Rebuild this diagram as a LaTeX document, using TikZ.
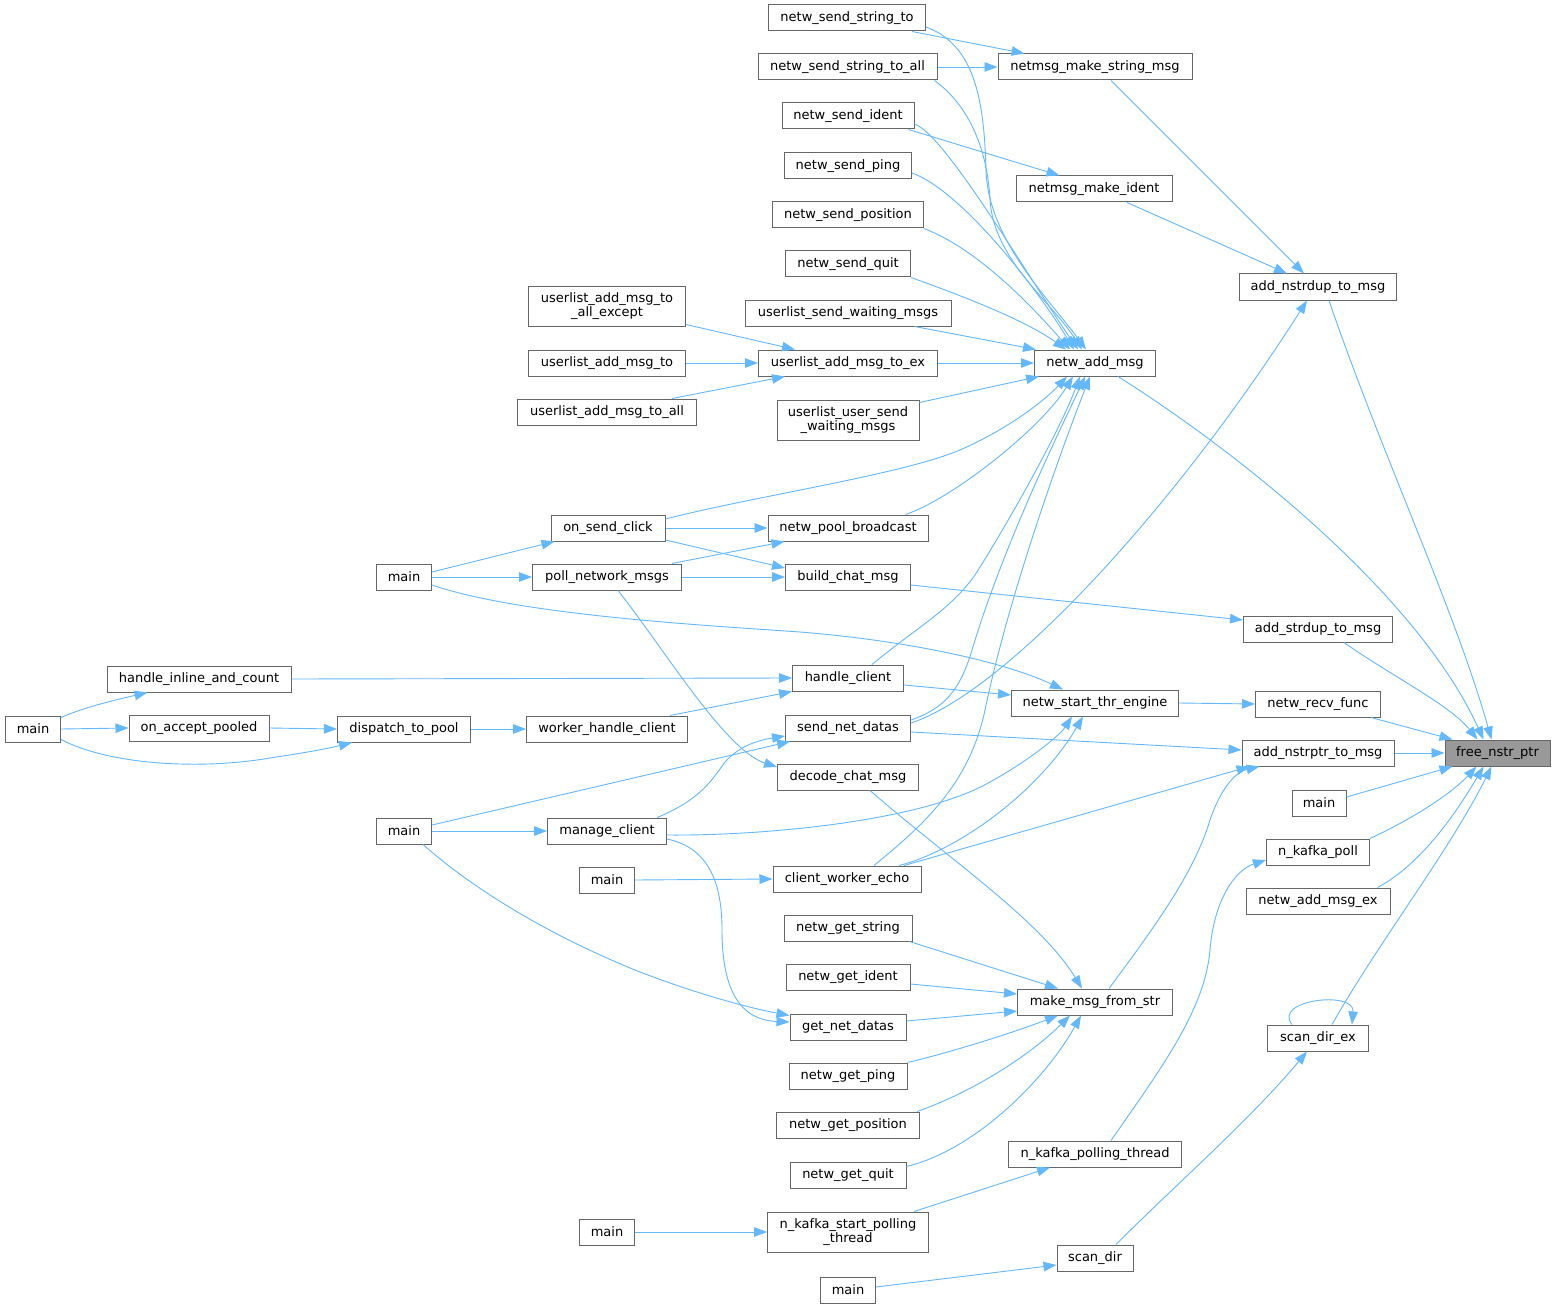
\documentclass[tikz,border=0pt]{standalone}
\usepackage{fontspec}
\setmainfont{DejaVu Sans}
\usetikzlibrary{arrows.meta}
\definecolor{edgeblue}{HTML}{63B8FF}
\definecolor{boxgray}{HTML}{666666}
\definecolor{fillgray}{HTML}{999999}
\tikzset{
 fn/.style={draw=boxgray, line width=1pt, fill=white, inner sep=0pt, minimum height=26pt, font=\fontsize{13}{14.5}\selectfont, align=center, text=black},
 fntwo/.style={fn, minimum height=40pt},
 call/.style={draw=edgeblue, line width=0.9pt, -{Triangle[length=13pt,width=9.5pt]}}
}
\begin{document}
\begin{tikzpicture}[x=1pt,y=-1pt]
\useasboundingbox[fill=white] (0,0) rectangle (1556,1308);
% column 5
\node[fn, minimum width=105pt, fill=fillgray] (fnp) at (1497.5,753) {free\_nstr\_ptr};
% column 4
\node[fn, minimum width=157pt] (ands) at (1318,287) {add\_nstrdup\_to\_msg};
\node[fn, minimum width=149pt] (asd) at (1318,629) {add\_strdup\_to\_msg};
\node[fn, minimum width=125pt] (nrf) at (1318,704) {netw\_recv\_func};
\node[fn, minimum width=152pt] (anp) at (1318,753) {add\_nstrptr\_to\_msg};
\node[fn, minimum width=54pt] (m4) at (1319,803) {main};
\node[fn, minimum width=103pt] (nkp) at (1318,852) {n\_kafka\_poll};
\node[fn, minimum width=144pt] (nameex) at (1318,901) {netw\_add\_msg\_ex};
\node[fn, minimum width=101pt] (sde) at (1318,1038) {scan\_dir\_ex};
% column 3
\node[fn, minimum width=194pt] (nmsm) at (1095,67) {netmsg\_make\_string\_msg};
\node[fn, minimum width=156pt] (nmi) at (1094,189) {netmsg\_make\_ident};
\node[fn, minimum width=121pt] (nam) at (1095,363) {netw\_add\_msg};
\node[fn, minimum width=167pt] (nste) at (1095,703) {netw\_start\_thr\_engine};
\node[fn, minimum width=155pt] (mmfs) at (1095,1002) {make\_msg\_from\_str};
\node[fn, minimum width=173pt] (nkpt) at (1095,1154) {n\_kafka\_polling\_thread};
\node[fn, minimum width=76pt] (sd) at (1095,1258) {scan\_dir};
% column 2
\node[fn, minimum width=157pt] (nsst) at (847,18) {netw\_send\_string\_to};
\node[fn, minimum width=179pt] (nssta) at (847.5,67) {netw\_send\_string\_to\_all};
\node[fn, minimum width=132pt] (nsi) at (848,116) {netw\_send\_ident};
\node[fn, minimum width=127pt] (nsp) at (848,166) {netw\_send\_ping};
\node[fn, minimum width=151pt] (nspos) at (848,215) {netw\_send\_position};
\node[fn, minimum width=125pt] (nsq) at (848,264) {netw\_send\_quit};
\node[fn, minimum width=206pt] (uswm) at (848,313) {userlist\_send\_waiting\_msgs};
\node[fn, minimum width=179pt] (uamte) at (848,363) {userlist\_add\_msg\_to\_ex};
\node[fntwo, minimum width=142pt] (uuswm) at (848,420) {userlist\_user\_send\\\_waiting\_msgs};
\node[fn, minimum width=160pt] (npb) at (848,528) {netw\_pool\_broadcast};
\node[fn, minimum width=125pt] (bcm) at (848,577) {build\_chat\_msg};
\node[fn, minimum width=111pt] (hc) at (848,678) {handle\_client};
\node[fn, minimum width=125pt] (snd) at (848,728) {send\_net\_datas};
\node[fn, minimum width=141pt] (dcm) at (848,777) {decode\_chat\_msg};
\node[fn, minimum width=148pt] (cwe) at (847,879) {client\_worker\_echo};
\node[fn, minimum width=128pt] (ngs) at (848,928) {netw\_get\_string};
\node[fn, minimum width=124pt] (ngi) at (848,977) {netw\_get\_ident};
\node[fn, minimum width=116pt] (gnd) at (848,1027) {get\_net\_datas};
\node[fn, minimum width=118pt] (ngp) at (848,1076) {netw\_get\_ping};
\node[fn, minimum width=143pt] (ngpos) at (848,1125) {netw\_get\_position};
\node[fn, minimum width=116pt] (ngq) at (848,1175) {netw\_get\_quit};
\node[fntwo, minimum width=161pt] (nkspt) at (848,1232) {n\_kafka\_start\_polling\\\_thread};
\node[fn, minimum width=55pt] (mb) at (848,1290) {main};
% column 1
\node[fntwo, minimum width=157pt] (uamtae) at (607,306) {userlist\_add\_msg\_to\\\_all\_except};
\node[fn, minimum width=157pt] (uamt) at (607,363) {userlist\_add\_msg\_to};
\node[fn, minimum width=179pt] (uamta) at (607,412) {userlist\_add\_msg\_to\_all};
\node[fn, minimum width=114pt] (osc) at (608,528) {on\_send\_click};
\node[fn, minimum width=149pt] (pnm) at (607,577) {poll\_network\_msgs};
\node[fn, minimum width=161pt] (whc) at (607,729) {worker\_handle\_client};
\node[fn, minimum width=119pt] (mc) at (607,831) {manage\_client};
\node[fn, minimum width=55pt] (m1a) at (607,880) {main};
\node[fn, minimum width=55pt] (m1b) at (607,1232) {main};
% column 0.5
\node[fn, minimum width=55pt] (m05a) at (404,577) {main};
\node[fn, minimum width=133pt] (dtp) at (404,729) {dispatch\_to\_pool};
\node[fn, minimum width=55pt] (m05b) at (404,831) {main};
% column 0.25
\node[fn, minimum width=184pt] (hiac) at (199,679) {handle\_inline\_and\_count};
\node[fn, minimum width=140pt] (oap) at (199,728) {on\_accept\_pooled};
% column 0
\node[fn, minimum width=55pt] (m0) at (33,729) {main};

% edges
\draw[call] ([xshift=-14pt]nsst.south east) -- ([xshift=27pt]nmsm.north west);
\draw[call] ([yshift=-9pt]nsst.east) .. controls (975,45) and (984,100) .. (986,170) .. controls (988,240) and (1050,300) .. ([xshift=-9pt]nam.north);
\draw[call] (nssta.east) -- (nmsm.west);
\draw[call] ([xshift=-3pt]nssta.south east) .. controls (975,110) and (988,160) .. (990,200) .. controls (994,260) and (1050,300) .. ([xshift=-13pt]nam.north);
\draw[call] ([xshift=-6pt]nsi.south east) -- ([xshift=44pt]nmi.north west);
\draw[call] ([yshift=-8pt]nsi.east) .. controls (945,134) and (1030,280) .. ([xshift=-17pt]nam.north);
\draw[call] ([yshift=-7pt]nsp.east) .. controls (960,190) and (1035,285) .. ([xshift=-21pt]nam.north);
\draw[call] (nspos.south east) .. controls (980,250) and (1035,310) .. ([xshift=-25pt]nam.north);
\draw[call] (nsq.south east) .. controls (960,295) and (1025,320) .. ([xshift=-29pt]nam.north);
\draw[call] ([xshift=-37pt]uswm.south east) -- ([xshift=2pt]nam.north west);
\draw[call] (uamte.east) -- (nam.west);
\draw[call] ([yshift=-3pt]uuswm.north east) -- ([xshift=5pt]nam.south west);
\draw[call] ([yshift=2pt]uamtae.south east) -- ([xshift=37pt]uamte.north west);
\draw[call] (uamt.east) -- (uamte.west);
\draw[call] ([xshift=-25pt]uamta.north east) -- ([xshift=27pt]uamte.south west);
\draw[call] ([xshift=16pt]nmsm.south) -- ([xshift=-14pt]ands.north);
\draw[call] ([xshift=33pt]nmi.south) -- ([xshift=-31pt]ands.north);
\draw[call] ([xshift=11pt]ands.south) .. controls (1380,450) and (1455,610) .. ([xshift=47pt]fnp.north west);
\draw[call] ([xshift=23pt]nam.south) .. controls (1250,460) and (1420,600) .. ([xshift=39pt]fnp.north west);
\draw[call] ([yshift=9pt]osc.east) .. controls (760,495) and (900,475) .. (960,450) .. controls (1010,428) and (1045,400) .. ([xshift=-28pt]nam.south);
\draw[call] (osc.east) -- (npb.west);
\draw[call] ([yshift=-12pt]osc.east) -- ([yshift=9pt]bcm.west);
\draw[call] ([xshift=-23pt]npb.north east) .. controls (950,500) and (1040,430) .. ([xshift=-22pt]nam.south);
\draw[call] ([xshift=-10pt]pnm.north east) -- ([xshift=17pt]npb.south west);
\draw[call] (pnm.east) -- (bcm.west);
\draw[call] ([xshift=11pt]pnm.south) .. controls (665,650) and (725,750) .. ([yshift=10pt]dcm.west);
\draw[call] ([yshift=5pt]m05a.east) -- ([xshift=4pt]osc.south west);
\draw[call] (m05a.east) -- (pnm.west);
\draw[call] ([yshift=-8pt]m05a.east) .. controls (520,615) and (700,625) .. (800,632) .. controls (900,640) and (1000,660) .. ([xshift=-32pt]nste.north);
\draw[call] ([yshift=-8pt]bcm.east) -- ([yshift=9pt]asd.west);
\draw[call] ([xshift=26pt]asd.south) .. controls (1390,675) and (1450,705) .. ([xshift=33pt]fnp.north west);
\draw[call] ([xshift=24pt]hc.north) .. controls (920,625) and (950,610) .. (975,575) .. controls (1010,520) and (1060,430) .. ([xshift=-15pt]nam.south);
\draw[call] ([yshift=-7pt]hc.east) -- ([yshift=8pt]nste.west);
\draw[call] (hiac.east) -- (hc.west);
\draw[call] ([xshift=-18pt]whc.north east) -- (hc.south west);
\draw[call] (dtp.east) -- (whc.west);
\draw[call] (oap.east) -- (dtp.west);
\draw[call] ([yshift=-2pt]m0.north east) .. controls (85,707) and (115,700) .. ([xshift=41pt]hiac.south west);
\draw[call] (m0.east) -- (oap.west);
\draw[call] ([yshift=3pt]m0.south east) .. controls (110,765) and (200,770) .. (270,758) .. controls (310,752) and (330,748) .. ([xshift=15pt]dtp.south west);
\draw[call] ([yshift=8pt]snd.east) .. controls (945,708) and (960,690) .. (972,650) .. controls (1005,540) and (1065,420) .. ([xshift=-10pt]nam.south);
\draw[call] ([yshift=5pt]snd.east) .. controls (1010,690) and (1180,500) .. ([xshift=-11pt]ands.south);
\draw[call] ([yshift=-4pt]snd.east) -- ([yshift=3pt]anp.west);
\draw[call] (nste.east) -- (nrf.west);
\draw[call] ([xshift=-10pt]nrf.south east) -- ([xshift=8pt]fnp.north west);
\draw[call] (anp.east) -- (fnp.west);
\draw[call] ([yshift=6pt]m4.east) -- ([xshift=8pt]fnp.south west);
\draw[call] (nkp.north east) .. controls (1410,820) and (1450,795) .. ([xshift=32pt]fnp.south west);
\draw[call] ([xshift=-13pt]nameex.north east) .. controls (1420,865) and (1455,815) .. ([xshift=39pt]fnp.south west);
\draw[call] ([xshift=14pt]sde.north) .. controls (1380,940) and (1450,850) .. ([xshift=47pt]fnp.south west);
\draw[call] ([xshift=-26pt]sde.north) .. controls (1272,1000) and (1355,990) .. ([xshift=34pt]sde.north);
\draw[call] ([xshift=21pt]sd.north) .. controls (1170,1190) and (1250,1120) .. ([xshift=-11pt]sde.south);
\draw[call] ([yshift=3pt]mb.east) -- ([yshift=-7pt]sd.west);
\draw[call] ([xshift=16pt]nkpt.north) .. controls (1160,1070) and (1205,1010) .. (1210,950) .. controls (1214,900) and (1235,870) .. ([yshift=-8pt]nkp.west);
\draw[call] ([xshift=-15pt]nkspt.north east) -- ([xshift=42pt]nkpt.south west);
\draw[call] (m1b.east) -- (nkspt.west);
\draw[call] ([xshift=14pt]mmfs.north) .. controls (1160,920) and (1195,870) .. (1210,820) .. controls (1220,790) and (1235,772) .. ([xshift=18pt]anp.south west);
\draw[call] ([xshift=-3pt]ngs.south east) -- ([xshift=-37pt]mmfs.north);
\draw[call] ([yshift=-7pt]ngi.east) -- ([yshift=8pt]mmfs.west);
\draw[call] ([yshift=6pt]gnd.east) -- ([yshift=-9pt]mmfs.west);
\draw[call] (ngp.north east) .. controls (960,1050) and (1020,1030) .. ([xshift=-37pt]mmfs.south);
\draw[call] ([xshift=-3pt]ngpos.north east) .. controls (965,1095) and (1025,1060) .. ([xshift=-25pt]mmfs.south);
\draw[call] ([yshift=-5pt]ngq.north east) .. controls (975,1150) and (1045,1080) .. ([xshift=-14pt]mmfs.south);
\draw[call] ([xshift=22pt]dcm.south) .. controls (950,860) and (1040,920) .. ([xshift=-13pt]mmfs.north);
\draw[call] ([xshift=27pt]cwe.north) .. controls (930,820) and (970,780) .. (985,710) .. controls (1010,590) and (1065,440) .. ([xshift=-5pt]nam.south);
\draw[call] ([xshift=52pt]cwe.north) .. controls (960,850) and (1040,790) .. ([xshift=-12pt]nste.south);
\draw[call] ([xshift=57pt]cwe.north) -- ([xshift=8pt]anp.south west);
\draw[call] (m1a.east) -- (cwe.west);
\draw[call] ([yshift=6pt]m05b.east) -- ([xshift=5pt]snd.south west);
\draw[call] (m05b.east) -- (mc.west);
\draw[call] ([xshift=19pt]m05b.south) .. controls (480,895) and (560,940) .. (640,972) .. controls (700,995) and (750,1008) .. ([yshift=-2pt]gnd.north west);
\draw[call] ([xshift=-10pt]mc.north east) .. controls (700,800) and (712,780) .. (725,762) .. controls (740,745) and (760,740) .. ([yshift=-8pt]snd.west);
\draw[call] ([yshift=-4pt]mc.east) .. controls (760,836) and (920,822) .. (990,782) .. controls (1030,760) and (1060,735) .. ([xshift=-23pt]nste.south);
\draw[call] ([yshift=-8pt]mc.east) .. controls (710,848) and (722,885) .. (722,930) .. controls (722,990) and (740,1020) .. ([yshift=5pt]gnd.west);
\end{tikzpicture}
\end{document}
